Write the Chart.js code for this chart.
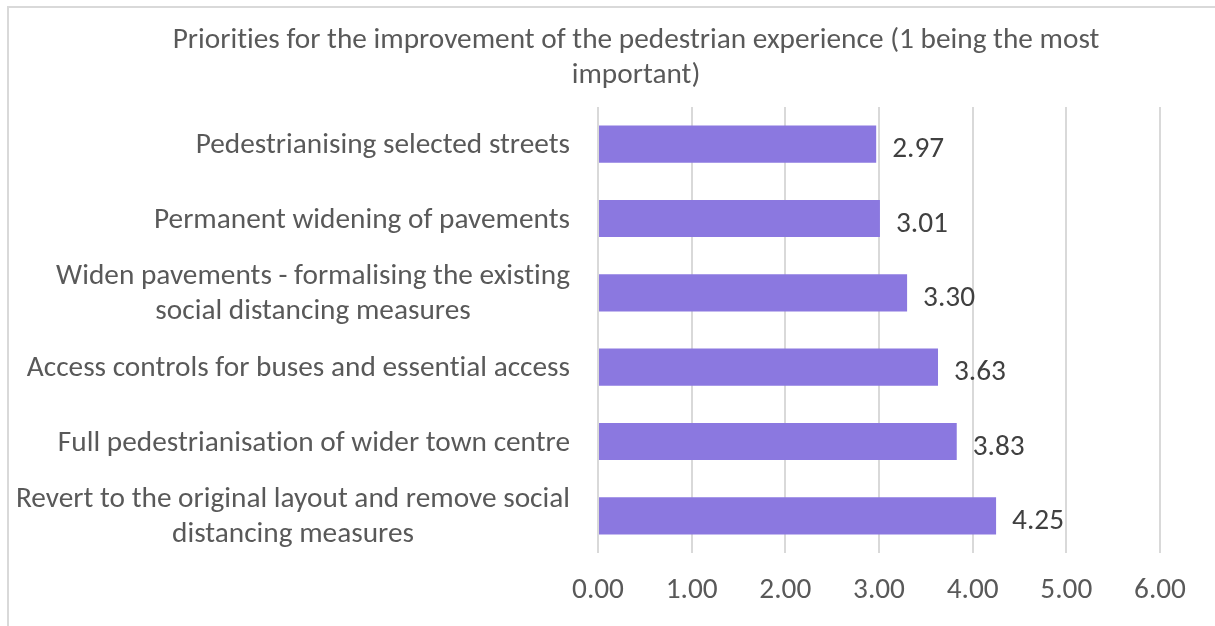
<!DOCTYPE html>
<html>
<head>
<meta charset="utf-8">
<script src="https://cdn.jsdelivr.net/npm/chart.js@4.4.1/dist/chart.umd.min.js"></script>
<style>
    html, body { margin: 0; padding: 0; background: #fff; }
    #frame {
        position: absolute; left: 7px; top: 6px; width: 1220px; height: 640px;
        border: 2px solid #d9d9d9; box-sizing: border-box;
    }
    #wrap { position: absolute; left: 0; top: 0; width: 1215px; height: 626px; }
</style>
</head>
<body>
<div id="frame"></div>
<div id="wrap"><canvas id="chart"></canvas></div>
<script>
// Chart data
const titleLines = ['Priorities for the improvement of the pedestrian experience (1 being the most', 'important)'];
const categories = [
    ['Pedestrianising selected streets'],
    ['Permanent widening of pavements'],
    ['Widen pavements - formalising the existing', 'social distancing measures'],
    ['Access controls for buses and essential access'],
    ['Full pedestrianisation of wider town centre'],
    ['Revert to the original layout and remove social', 'distancing measures']
];
const scores = [2.97, 3.01, 3.30, 3.63, 3.83, 4.25];
const xMin = 0;
const xMax = 6;
const xStep = 1;

const FONT = 'Carlito, Lato, "Open Sans", sans-serif';
const FONT_SIZE = 29.3;
const TEXT_GREY = '#595959';
const VALUE_GREY = '#404040';
const BAR_COLOR = '#8b78e0';
const GRID_COLOR = '#d9d9d9';

/**
 * Draws the title and the category labels the way Excel does:
 * right-aligned block, lines centred on each other.
 */
const excelText = {
    id: 'excelText',
    afterDraw(chart) {
        const ctx = chart.ctx;
        const yScale = chart.scales.y;
        ctx.save();
        ctx.font = `${FONT_SIZE}px ${FONT}`;
        // a tiny letter spacing switches off the "ti" ligature (Calibri has none)
        if ('letterSpacing' in ctx) ctx.letterSpacing = '0.01px';
        ctx.textBaseline = 'alphabetic';
        ctx.textAlign = 'center';

        // title
        ctx.fillStyle = TEXT_GREY;
        titleLines.forEach((line, i) => {
            ctx.fillText(line, 636, 48 + i * 35);
        });

        // category labels
        const rightEdge = chart.chartArea.left - 28;
        const lineHeight = 35;
        categories.forEach((lines, i) => {
            const yc = yScale.getPixelForTick(i);
            const widest = Math.max(...lines.map(l => ctx.measureText(l).width));
            const xc = rightEdge - widest / 2;
            const y0 = yc - (lines.length - 1) * lineHeight / 2;
            lines.forEach((line, j) => {
                ctx.fillText(line, xc, y0 + j * lineHeight + 9);
            });
        });
        ctx.restore();
    }
};

// Value labels to the right of each bar
const valueLabels = {
    id: 'valueLabels',
    afterDatasetsDraw(chart) {
        const ctx = chart.ctx;
        const meta = chart.getDatasetMeta(0);
        ctx.save();
        ctx.font = `${FONT_SIZE}px ${FONT}`;
        ctx.fillStyle = VALUE_GREY;
        ctx.textAlign = 'left';
        ctx.textBaseline = 'alphabetic';
        meta.data.forEach((bar, i) => {
            ctx.fillText(scores[i].toFixed(2), bar.x + 16, bar.y + 13);
        });
        ctx.restore();
    }
};

const ctx = document.getElementById('chart').getContext('2d');
new Chart(ctx, {
    type: 'bar',
    data: {
        labels: categories,
        datasets: [{
            data: scores,
            backgroundColor: BAR_COLOR,
            borderWidth: 0,
            categoryPercentage: 0.5,
            barPercentage: 1.0
        }]
    },
    options: {
        indexAxis: 'y',
        responsive: true,
        maintainAspectRatio: false,
        animation: false,
        layout: { padding: { top: 107, right: 55, bottom: 0, left: 0 } },
        plugins: {
            legend: { display: false },
            title: { display: false },
            tooltip: { enabled: false }
        },
        scales: {
            x: {
                min: xMin,
                max: xMax,
                afterFit: (s) => { s.height = 73; },
                ticks: {
                    stepSize: xStep,
                    padding: 20,
                    color: TEXT_GREY,
                    font: { family: FONT, size: FONT_SIZE },
                    callback: (v) => Number(v).toFixed(2)
                },
                grid: { color: GRID_COLOR, lineWidth: 2, drawTicks: false },
                border: { display: false }
            },
            y: {
                afterFit: (s) => { s.width = 598; },
                ticks: { color: 'transparent', font: { family: FONT, size: 12 } },
                grid: { display: false },
                border: { display: false }
            }
        }
    },
    plugins: [excelText, valueLabels]
});
</script>
</body>
</html>
